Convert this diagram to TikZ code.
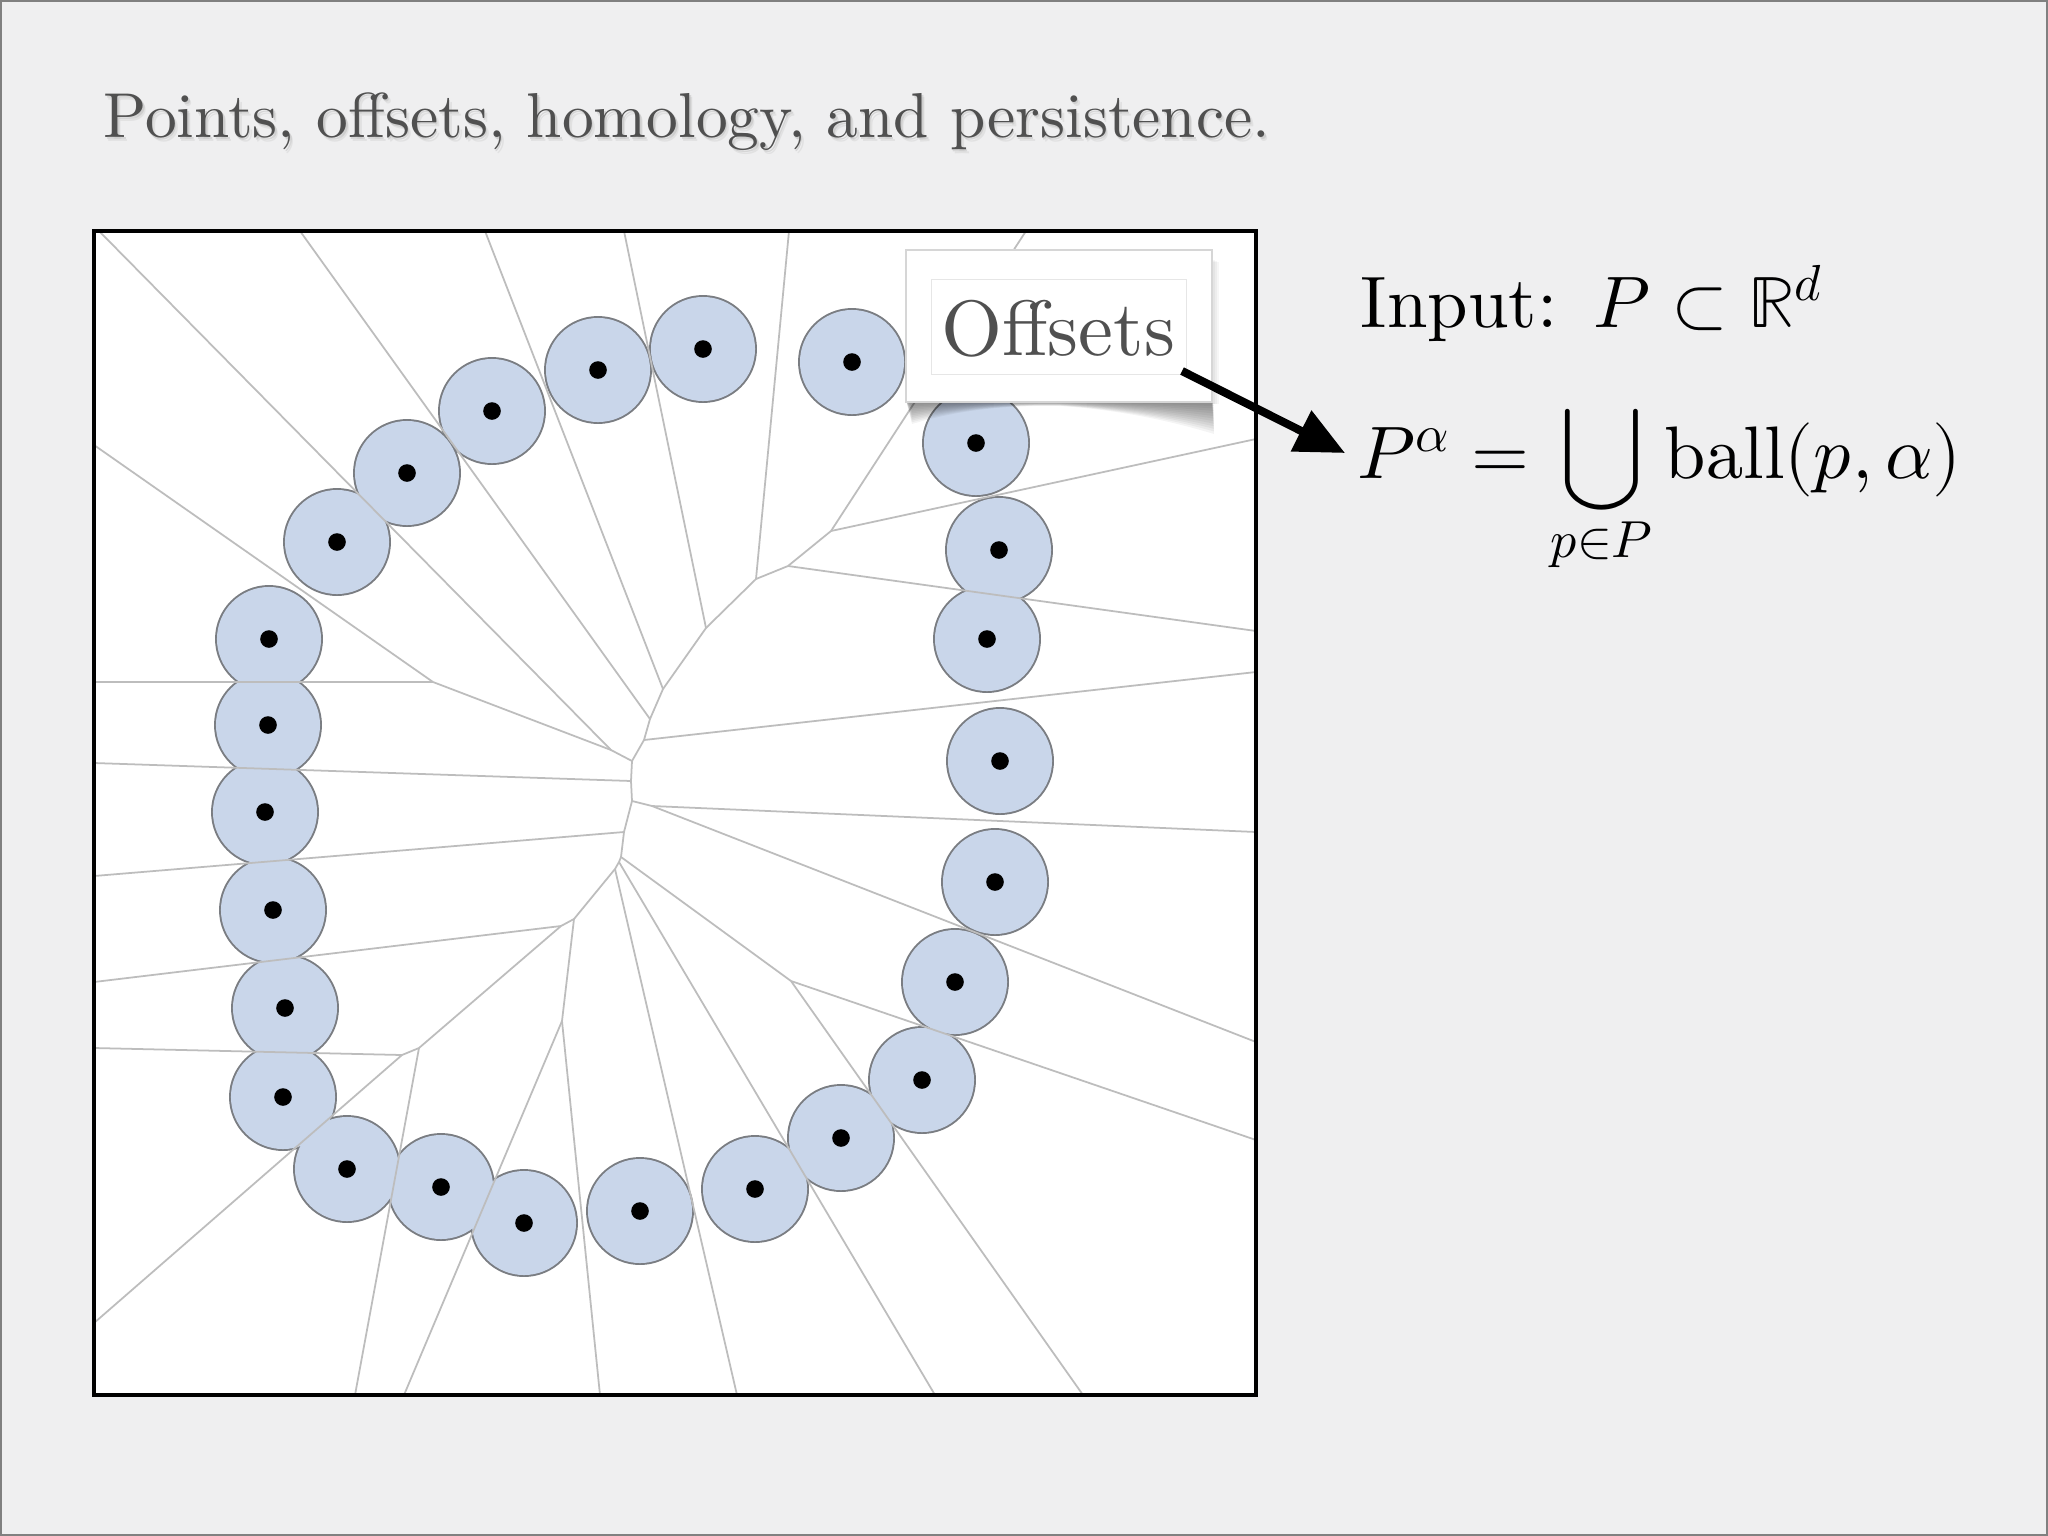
\documentclass[tikz,border=0pt]{standalone}
\usepackage{fontspec}
\usepackage{unicode-math}
\setmainfont{lmroman10-regular.otf}
\setmathfont{latinmodern-math.otf}
\usetikzlibrary{arrows.meta}
\definecolor{bgcol}{HTML}{EFEFF0}
\definecolor{ballfill}{HTML}{C9D6EA}
\definecolor{ballline}{HTML}{7A7D82}
\definecolor{vorcol}{HTML}{BDBDBD}
\definecolor{titlecol}{HTML}{505050}
\definecolor{titleshadow}{HTML}{B8B8B8}
\definecolor{boxedge}{HTML}{D6D6D6}
\definecolor{inneredge}{HTML}{E6E6E6}
\begin{document}
\begin{tikzpicture}[x=0.01cm,y=-0.01cm,
  vor/.style={draw=vorcol,line width=0.5pt},
  ballrim/.style={draw=ballline,line width=1.1pt},
  framebox/.style={draw=black,line width=1.2pt},
  titletext/.style={anchor=base west,inner sep=0,font=\fontsize{18.05}{22}\selectfont},
  mathtext/.style={anchor=base west,inner sep=0,font=\fontsize{20.74}{25}\selectfont},
  bigmath/.style={anchor=base west,inner sep=0,font=\fontsize{21.15}{25}\selectfont}]
\useasboundingbox (0,0) rectangle (2048,1536);
\fill[bgcol] (0,0) rectangle (2048,1536);
\draw[gray,line width=0.5pt] (1,1) rectangle (2047,1535);

% title with soft shadow
\node[titletext,text=titleshadow,opacity=0.25] (titleshadowb) at (106,141) {Points, offsets, homology, and persistence.};
\node[titletext,text=titleshadow,opacity=0.45] (titleshadowa) at (104.5,139) {Points, offsets, homology, and persistence.};
\node[titletext,text=titlecol] (title) at (103,137) {Points, offsets, homology, and persistence.};

% frame
\fill[white] (94,231) rectangle (1256,1395);

% sample points
\coordinate (p1) at (337,542);
\coordinate (p2) at (407,473);
\coordinate (p3) at (492,411);
\coordinate (p4) at (598,370);
\coordinate (p5) at (703,349);
\coordinate (p6) at (852,362);
\coordinate (p7) at (976,443);
\coordinate (p8) at (999,550);
\coordinate (p9) at (987,639);
\coordinate (p10) at (1000,761);
\coordinate (p11) at (995,882);
\coordinate (p12) at (955,982);
\coordinate (p13) at (922,1080);
\coordinate (p14) at (841,1138);
\coordinate (p15) at (755,1189);
\coordinate (p16) at (640,1211);
\coordinate (p17) at (524,1223);
\coordinate (p18) at (441,1187);
\coordinate (p19) at (347,1169);
\coordinate (p20) at (283,1097);
\coordinate (p21) at (285,1008);
\coordinate (p22) at (273,910);
\coordinate (p23) at (265,812);
\coordinate (p24) at (268,725);
\coordinate (p25) at (269,639);

\foreach \i in {1,...,25} \draw[ballrim] (p\i) circle[radius=0.52cm];
\foreach \i in {1,...,25} \fill[ballfill] (p\i) circle[radius=0.52cm];
\foreach \i in {1,...,25} \fill[black] (p\i) circle[radius=0.088cm];

% Voronoi vertices
\coordinate (A) at (433,682);
\coordinate (v9) at (611,750);
\coordinate (v8) at (632,761);
\coordinate (v7) at (644,740);
\coordinate (v6) at (650,719);
\coordinate (v5) at (663,689);
\coordinate (v4) at (706,628);
\coordinate (v3) at (756,579);
\coordinate (v2) at (788,566);
\coordinate (v1) at (831,531);
\coordinate (v10) at (631,781);
\coordinate (v11) at (632,801);
\coordinate (v11b) at (652,806);
\coordinate (v12) at (624,832);
\coordinate (v13c) at (621,857);
\coordinate (v13b) at (619,862);
\coordinate (v13a) at (615,869);
\coordinate (v14b) at (574,919);
\coordinate (v14a) at (561,926);
\coordinate (v16) at (562,1021);
\coordinate (v17b) at (419,1048);
\coordinate (v17a) at (402,1055);
\coordinate (v15) at (791,981);
% frame crossings
\coordinate (t1) at (99,231);
\coordinate (t2) at (300,231);
\coordinate (t3) at (485,231);
\coordinate (t4) at (624,231);
\coordinate (t5) at (789,231);
\coordinate (t6) at (1026,231);
\coordinate (r1) at (1256,439);
\coordinate (r2) at (1256,631);
\coordinate (r3) at (1256,672);
\coordinate (r4) at (1256,832);
\coordinate (r5) at (1256,1042);
\coordinate (r6) at (1256,1140);
\coordinate (b1) at (1083,1395);
\coordinate (b2) at (935,1395);
\coordinate (b3) at (737,1395);
\coordinate (b4) at (600,1395);
\coordinate (b5) at (404,1395);
\coordinate (b6) at (355,1395);
\coordinate (l1) at (94,1323);
\coordinate (l2) at (94,1048);
\coordinate (l3) at (94,982);
\coordinate (l4) at (94,876);
\coordinate (l5) at (94,763);
\coordinate (l6) at (94,682);
\coordinate (l7) at (94,445);

\draw[vor] (v1) -- (v2) -- (v3) -- (v4) -- (v5) -- (v6) -- (v7) -- (v8) -- (v10) -- (v11) -- (v12) -- (v13c) -- (v13b) -- (v13a) -- (v14b) -- (v14a) -- (v17b) -- (v17a);
\draw[vor] (v11) -- (v11b);
\draw[vor] (A) -- (v9) -- (v8);
\draw[vor] (v14b) -- (v16);
\draw[vor] (v13c) -- (v15);
\draw[vor] (v9) -- (t1);
\draw[vor] (v6) -- (t2);
\draw[vor] (v5) -- (t3);
\draw[vor] (v4) -- (t4);
\draw[vor] (v3) -- (t5);
\draw[vor] (v1) -- (t6);
\draw[vor] (v1) -- (r1);
\draw[vor] (v2) -- (r2);
\draw[vor] (v7) -- (r3);
\draw[vor] (v11b) -- (r4);
\draw[vor] (v11b) -- (r5);
\draw[vor] (v15) -- (r6);
\draw[vor] (v15) -- (b1);
\draw[vor] (v13b) -- (b2);
\draw[vor] (v13a) -- (b3);
\draw[vor] (v16) -- (b4);
\draw[vor] (v16) -- (b5);
\draw[vor] (v17b) -- (b6);
\draw[vor] (v17a) -- (l1);
\draw[vor] (v17a) -- (l2);
\draw[vor] (v14a) -- (l3);
\draw[vor] (v12) -- (l4);
\draw[vor] (v10) -- (l5);
\draw[vor] (A) -- (l6);
\draw[vor] (A) -- (l7);

\draw[framebox] (94,231) rectangle (1256,1395);

% Offsets callout with curled shadow
\foreach \f in {1.0,0.92,0.84,0.76,0.68,0.6,0.52,0.44,0.36,0.28,0.2,0.12}
  \fill[black,opacity=0.045] (906,400) -- (1212,400) -- (1214,{402+32*\f})
    .. controls (1165,{402+17*\f}) and (1110,{402+7*\f}) .. (1060,{402+4*\f})
    .. controls (1000,{402+3*\f}) and (955,{402+9*\f}) .. (912,{402+22*\f}) -- cycle;
\foreach \f in {1.0,0.7,0.4}
  \fill[black,opacity=0.035] (1212,{258+4*\f}) rectangle ({1212+7*\f},404);
\node[draw=boxedge,fill=white,line width=0.4pt,minimum width=3.06cm,minimum height=1.52cm,inner sep=0] (offsetsbox) at (1059,326) {};
\node[draw=inneredge,line width=0.3pt,minimum width=2.54cm,minimum height=0.95cm,inner sep=0] (offsetsinner) at (1059,327) {};
\node[anchor=base,inner sep=0,text=titlecol,font=\fontsize{22.3}{27}\selectfont] (offsetslabel) at (1058,355) {Offsets};

% arrow
\coordinate (arrstart) at (1182,371);
\coordinate (arrtip) at (1345,453);
\draw[line width=2.3pt,-{Triangle[length=14pt,width=12.5pt]}] (arrstart) -- (arrtip);

% formulas
\node[mathtext] (input) at (1360,327) {Input:\enspace$P\subset\mathbb{R}^d$};
\node[bigmath] (formula) at (1357,478) {$\displaystyle P^\alpha=\bigcup_{p\in P}\mathrm{ball}(p,\alpha)$};
\end{tikzpicture}
\end{document}
